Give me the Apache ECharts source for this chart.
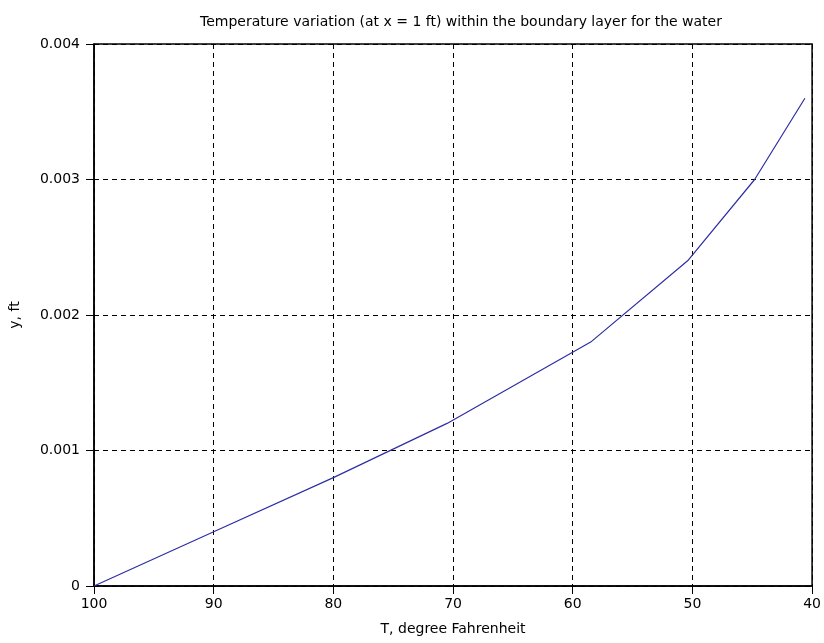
<!DOCTYPE html>
<html>
<head>
<meta charset="utf-8">
<script src="https://cdn.jsdelivr.net/npm/echarts@6/dist/echarts.min.js"></script>
<style>html,body{margin:0;padding:0;background:#fff}#c{width:824px;height:643px}</style>
</head>
<body>
<div id="c"></div>
<script>
// Data
const temperatureF = [100, 90, 80, 70.5, 58.5, 50.4, 44.8, 40.6];
const distanceFt   = [0, 0.0004, 0.0008, 0.0012, 0.0018, 0.0024, 0.003, 0.0036];
const xTicks = [100, 90, 80, 70, 60, 50, 40];
const yTicks = [0, 0.001, 0.002, 0.003, 0.004];
const titleText = 'Temperature variation (at x = 1 ft) within the boundary layer for the water';
const xName = 'T, degree Fahrenheit';
const yName = 'y, ft';

const points = temperatureF.map((t, i) => [t, distanceFt[i]]);
const font = 'DejaVu Sans';

const chart = echarts.init(document.getElementById('c'), null, {renderer: 'canvas'});
chart.setOption({
  animation: false,
  backgroundColor: '#fff',
  title: {
    text: titleText,
    left: 456, top: 10, textAlign: 'center',
    textStyle: {fontFamily: font, fontSize: 14, fontWeight: 'normal', color: '#000'}
  },
  grid: {left: 94, right: 11, top: 44, bottom: 57, show: true, borderColor: '#000', borderWidth: 1.5},
  xAxis: {
    type: 'value', inverse: true, min: 40, max: 100, interval: 10,
    name: xName, nameLocation: 'middle', nameGap: 36,
    nameTextStyle: {fontFamily: font, fontSize: 14, color: '#000'},
    axisLine: {show: true, onZero: false, lineStyle: {color: '#000', width: 1.5}},
    axisTick: {show: true, inside: false, length: 8, lineStyle: {color: '#000'}},
    axisLabel: {margin: 11, fontFamily: font, fontSize: 14, color: '#000',
      formatter: v => xTicks.includes(v) ? String(v) : ''},
    splitLine: {show: true, lineStyle: {color: '#000', type: [5, 4], width: 1}}
  },
  yAxis: {
    type: 'value', min: 0, max: 0.004, interval: 0.001,
    name: yName, nameLocation: 'middle', nameGap: 72, nameRotate: 90,
    nameTextStyle: {fontFamily: font, fontSize: 14, color: '#000'},
    axisLine: {show: true, onZero: false, lineStyle: {color: '#000', width: 1.5}},
    axisTick: {show: true, inside: false, length: 8, lineStyle: {color: '#000'}},
    axisLabel: {margin: 14, fontFamily: font, fontSize: 14, color: '#000',
      formatter: v => { const t = yTicks.find(y => Math.abs(y - v) < 1e-9); return t === undefined ? '' : (t === 0 ? '0' : t.toFixed(3)); }},
    splitLine: {show: true, lineStyle: {color: '#000', type: [5, 4], width: 1}}
  },
  series: [{
    type: 'line', data: points, showSymbol: false, smooth: false,
    lineStyle: {color: '#2e2ea6', width: 1.2}
  }]
});
</script>
</body>
</html>
